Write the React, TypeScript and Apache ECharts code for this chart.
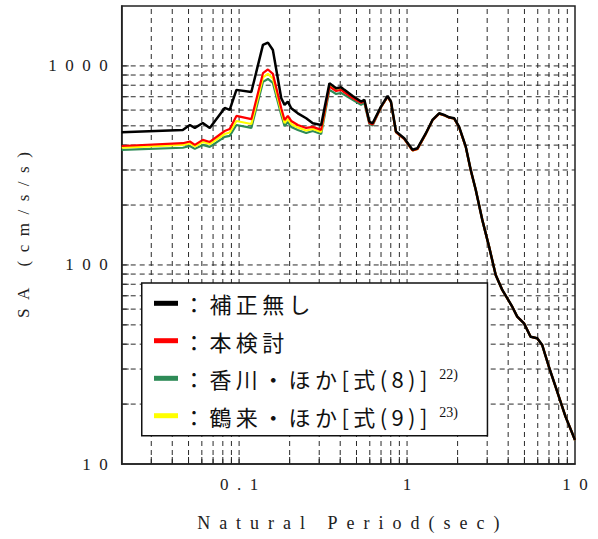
import React, { useEffect, useRef } from "react";
import * as echarts from "echarts";

// Axis extents (natural period in seconds, spectral acceleration in cm/s/s)
const X_MIN = 0.02;
const X_MAX = 10;
const Y_MIN = 10;
const Y_MAX = 2000;

// Labelled decades
const X_LABELS = [0.1, 1, 10];
const Y_LABELS = [10, 100, 1000];

// Dashed grid positions
const X_GRID = [0.03, 0.04, 0.05, 0.06, 0.07, 0.08, 0.09, 0.1, 0.2, 0.3, 0.4, 0.5, 0.6, 0.7, 0.8, 0.9, 1, 2, 3, 4, 5, 6, 7, 8, 9];
const Y_GRID = [20, 30, 40, 50, 60, 70, 80, 90, 100, 200, 300, 400, 500, 600, 700, 800, 900, 1000];

// Natural periods (sec)
const PERIOD = [
  0.02, 0.0462, 0.0509, 0.0545, 0.0608, 0.0669, 0.0821, 0.0879, 0.0964, 0.1183,
  0.1387, 0.1485, 0.1589, 0.1783, 0.1865, 0.1951, 0.2044, 0.2237, 0.2509, 0.2747,
  0.308, 0.3451, 0.3783, 0.405, 0.4236, 0.4745, 0.5324, 0.5569, 0.5965, 0.6237,
  0.6996, 0.7659, 0.802, 0.859, 0.962, 1.078, 1.154, 1.295, 1.417, 1.553,
  1.663, 1.78, 1.906, 2.04, 2.237, 2.395, 2.566, 2.808, 3.076, 3.372,
  3.69, 4.23, 4.53, 4.97, 5.44, 5.96, 6.38, 6.99, 7.66, 8.78, 10,
];

// 補正無し
const SA_RAW = [
  464, 477, 505, 488, 517, 488, 615, 601, 758, 740,
  1275, 1310, 1203, 688, 637, 662, 613, 578, 546, 515,
  505, 819, 773, 782, 758, 706, 662, 675, 525, 515,
  624, 706, 662, 468, 433, 379, 386, 459, 535, 578,
  567, 552, 546, 495, 393, 300, 238, 168, 124, 89,
  74.9, 61.7, 55, 50.9, 43.6, 42.8, 39.6, 30.8, 24.5, 17.3, 13.2,
];

// Corrected spectra coincide beyond about 0.65 sec
const SA_TAIL = [
  620, 700, 658, 465, 430, 376, 383, 457, 533, 576,
  565, 550, 544, 493, 392, 299, 238, 168, 124, 89,
  74.9, 61.7, 55, 50.9, 43.6, 42.8, 39.6, 30.8, 24.5, 17.3, 13.2,
];

// 本検討 (short-period part)
const SA_PROPOSED = [
  396, 409, 417, 401, 425, 415, 471, 482, 561, 540,
  919, 960, 912, 613, 535, 561, 529, 505, 488, 494,
  477, 787, 748, 758, 736, 690, 652, 667, 517, 508,
];

// 香川・ほか[式(8)] (short-period part)
const SA_KAGAWA = [
  379, 388, 396, 383, 401, 392, 440, 445, 505, 488,
  831, 860, 821, 567, 499, 523, 494, 477, 460, 471,
  455, 758, 723, 731, 715, 675, 637, 652, 511, 502,
];

// 鶴来・ほか[式(9)] (short-period part)
const SA_TSURUGI = [
  389, 401, 408, 394, 415, 405, 455, 463, 529, 511,
  875, 912, 865, 590, 517, 542, 511, 491, 474, 482,
  466, 807, 766, 775, 753, 703, 659, 671, 520, 511,
];

const NAMES = ["補正無し", "本検討", "香川・ほか[式(8)]", "鶴来・ほか[式(9)]"];
const REFS: Record<string, string> = {
  "香川・ほか[式(8)]": "22)",
  "鶴来・ほか[式(9)]": "23)",
};
const COLORS = ["#000000", "#ff0000", "#2e8b57", "#ffff00"];

const SERIF = "'Liberation Serif', 'DejaVu Serif', serif";
const CJK = "'Noto Sans CJK JP', 'Noto Sans', sans-serif";

const EN = "\u2002";
const THIN = "\u2009";
const spread = (s: string, sep: string) => s.split("").join(sep);

const pairs = (vals: number[]) => PERIOD.map((t, i) => [t, vals[i]]);

const isLabelled = (v: number, list: number[]) =>
  list.some((d) => Math.abs(v - d) / d < 1e-6);

// Legend rows: one legend component per row so each row sits on its own line
const LEGEND_ROW_CENTERS = [303.3, 340.7, 378.3, 415.7];

export default function App() {
  const ref = useRef<HTMLDivElement>(null);

  useEffect(() => {
    if (!ref.current) return;
    const chart = echarts.init(ref.current, undefined, { renderer: "svg" });

    const gridData = [
      ...X_GRID.map((x) => [x, Y_MIN, 0]),
      ...Y_GRID.map((y) => [X_MIN, y, 1]),
    ];

    const renderGrid = (_params: any, api: any) => {
      const kind = api.value(2);
      const stroke = "#2a2a2a";
      if (kind === 0) {
        const x = api.value(0);
        const b = api.coord([x, Y_MIN]);
        const t = api.coord([x, Y_MAX]);
        return {
          type: "group",
          children: [
            { type: "line", shape: { x1: b[0], y1: b[1], x2: t[0], y2: t[1] }, style: { stroke, lineWidth: 1, lineDash: [5, 4] } },
            { type: "line", shape: { x1: b[0], y1: b[1], x2: b[0], y2: b[1] - 7 }, style: { stroke: "#222", lineWidth: 1 } },
          ],
        };
      }
      const y = api.value(1);
      const l = api.coord([X_MIN, y]);
      const r = api.coord([X_MAX, y]);
      return {
        type: "group",
        children: [
          { type: "line", shape: { x1: l[0], y1: l[1], x2: r[0], y2: r[1] }, style: { stroke, lineWidth: 1, lineDash: [5, 4] } },
          { type: "line", shape: { x1: l[0], y1: l[1], x2: l[0] + 7, y2: l[1] }, style: { stroke: "#222", lineWidth: 1 } },
        ],
      };
    };

    const lineSeries = (name: string, vals: number[], color: string, width: number, z: number) => ({
      name,
      type: "line",
      data: pairs(vals),
      showSymbol: false,
      symbol: "none",
      color,
      lineStyle: { color, width },
      z,
    });

    const ROW_H = 28;
    const legends = NAMES.map((name, i) => ({
      data: [name],
      orient: "vertical",
      left: 154,
      top: LEGEND_ROW_CENTERS[i] - ROW_H / 2,
      padding: 0,
      itemWidth: 24,
      itemHeight: 5,
      icon: "rect",
      z: 20,
      selectedMode: false,
      formatter: (n: string) => {
        const main = "{m|" + spread("：" + n, THIN) + "}";
        return REFS[n] ? main + "{s|" + REFS[n] + "}" : main;
      },
      textStyle: {
        padding: 0,
        lineHeight: ROW_H,
        rich: {
          m: { fontFamily: CJK, fontSize: 22, lineHeight: ROW_H, height: ROW_H, color: "#111" },
          s: { fontFamily: SERIF, fontSize: 14, lineHeight: 14, verticalAlign: "middle", color: "#111", padding: [0, 0, 7, 12] },
        },
      },
    }));

    const option: any = {
      animation: false,
      backgroundColor: "#ffffff",
      grid: {
        left: 121.7,
        right: 23,
        top: 6,
        bottom: 75,
        show: true,
        borderColor: "#222",
        borderWidth: 1.5,
        backgroundColor: "transparent",
      },
      xAxis: {
        type: "log",
        logBase: 10,
        min: X_MIN,
        max: X_MAX,
        name: spread("Natural Period(sec)", EN),
        nameLocation: "middle",
        nameGap: 50,
        nameTextStyle: { fontFamily: SERIF, fontSize: 18, color: "#222" },
        axisLine: { show: true, lineStyle: { color: "#222", width: 1.5 } },
        axisTick: { show: false },
        splitLine: { show: false },
        axisLabel: {
          margin: 12,
          fontFamily: SERIF,
          fontSize: 17,
          color: "#222",
          showMinLabel: true,
          showMaxLabel: true,
          formatter: (v: number) => (isLabelled(v, X_LABELS) ? spread(String(+v.toPrecision(6)), EN) : ""),
        },
      },
      yAxis: {
        type: "log",
        logBase: 10,
        min: Y_MIN,
        max: Y_MAX,
        name: spread("SA (cm/s/s)", EN),
        nameLocation: "middle",
        nameGap: 90,
        nameTextStyle: { fontFamily: SERIF, fontSize: 17, color: "#222" },
        axisLine: { show: true, lineStyle: { color: "#222", width: 1.5 } },
        axisTick: { show: false },
        splitLine: { show: false },
        axisLabel: {
          margin: 14,
          fontFamily: SERIF,
          fontSize: 17,
          color: "#222",
          showMinLabel: true,
          showMaxLabel: true,
          formatter: (v: number) => (isLabelled(v, Y_LABELS) ? spread(String(Math.round(v)), EN) : ""),
        },
      },
      legend: legends,
      graphic: [
        {
          type: "rect",
          left: 141,
          top: 282.3,
          z: 10,
          shape: { width: 345.7, height: 152.7 },
          style: { fill: "#ffffff", stroke: "#111", lineWidth: 1.5 },
        },
      ],
      series: [
        {
          type: "custom",
          name: "grid",
          data: gridData,
          encode: { x: 0, y: 1 },
          renderItem: renderGrid,
          silent: true,
          z: 1,
        },
        lineSeries(NAMES[2], [...SA_KAGAWA, ...SA_TAIL], COLORS[2], 2.2, 2),
        lineSeries(NAMES[3], [...SA_TSURUGI, ...SA_TAIL], COLORS[3], 2.2, 3),
        lineSeries(NAMES[1], [...SA_PROPOSED, ...SA_TAIL], COLORS[1], 2.2, 4),
        lineSeries(NAMES[0], SA_RAW, COLORS[0], 2.5, 5),
      ],
    };

    chart.setOption(option);
    return () => chart.dispose();
  }, []);

  return (
    <div
      ref={ref}
      style={{ position: "fixed", left: 0, top: 0, width: 598, height: 539, background: "#fff" }}
    />
  );
}
